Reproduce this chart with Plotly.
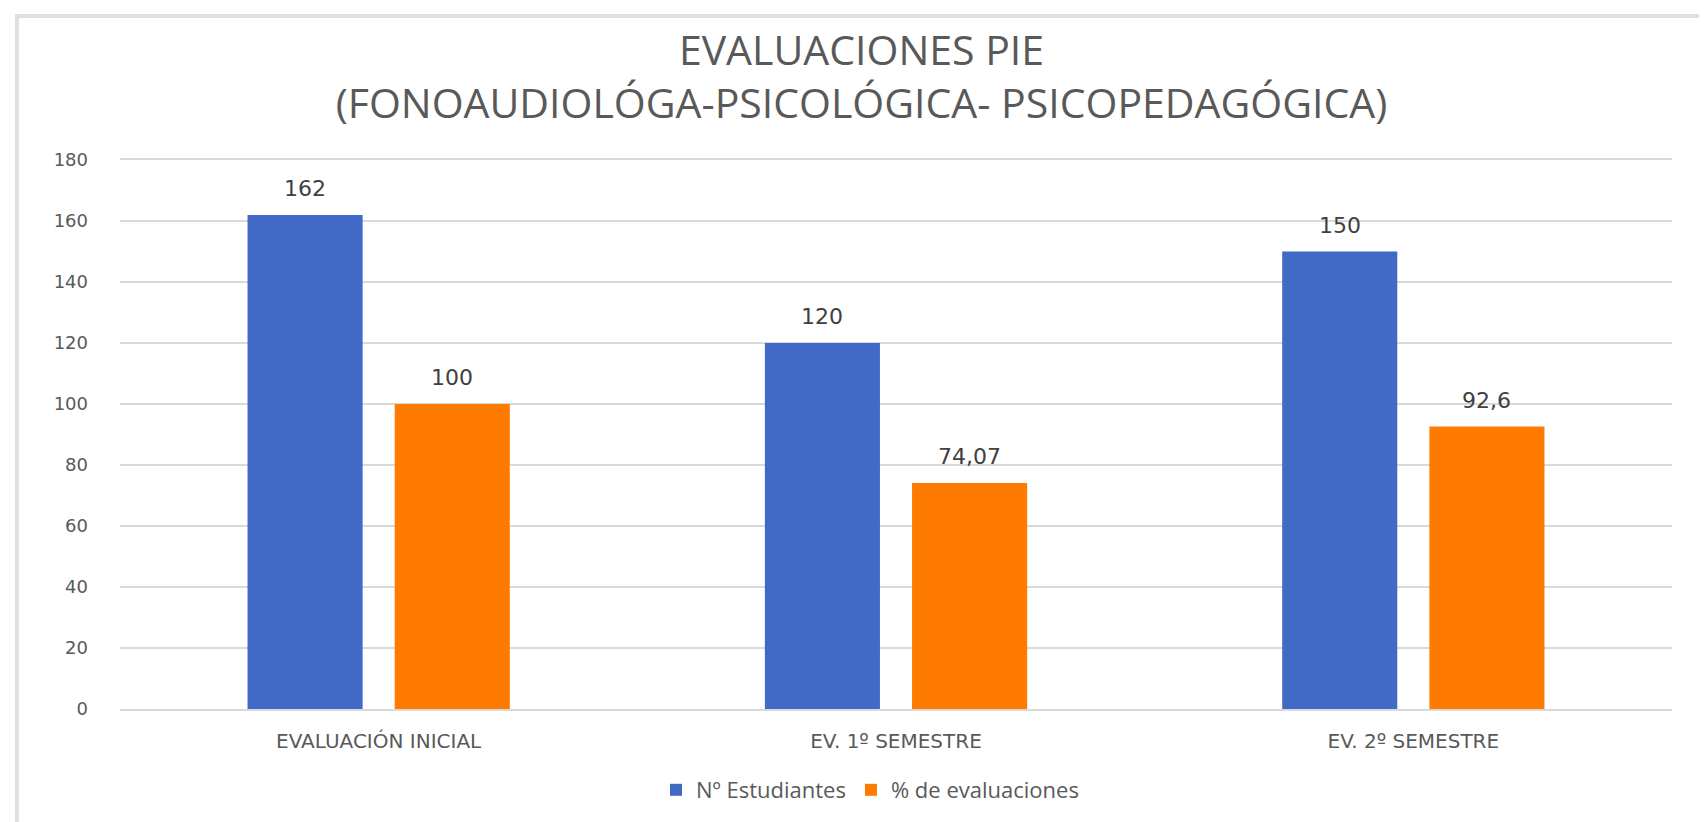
import plotly.graph_objects as go

categories = ["EVALUACIÓN INICIAL", "EV. 1º SEMESTRE", "EV. 2º SEMESTRE"]
estudiantes = [162, 120, 150]
porcentaje = [100, 74.07, 92.6]
series_names = ["Nº Estudiantes", "% de evaluaciones"]
y_ticks = [0, 20, 40, 60, 80, 100, 120, 140, 160, 180]

BLUE = "#4169C6"
ORANGE = "#FF7B00"
GRAY = "#595959"
LABEL = "#404040"

W, H = 1707, 822
L, R, T, B = 112, 43, 152, 121
PW = W - L - R
PH = H - T - B


def fmt(v):
    return f"{v:g}".replace(".", ",")


fig = go.Figure()
fig.add_trace(go.Bar(x=categories, y=estudiantes, name=series_names[0],
                     marker=dict(color=BLUE, line=dict(width=0))))
fig.add_trace(go.Bar(x=categories, y=porcentaje, name=series_names[1],
                     marker=dict(color=ORANGE, line=dict(width=0))))

slot_px = PW / len(categories) * (1 - 0.431) / 2
annotations = []
for vals, sign in ((estudiantes, -1), (porcentaje, 1)):
    for c, v in zip(categories, vals):
        annotations.append(dict(
            x=c, y=v, xref="x", yref="y", text=fmt(v), showarrow=False,
            xanchor="center", yanchor="bottom", xshift=sign * slot_px / 2, yshift=12,
            font=dict(family="DejaVu Sans", size=22, color=LABEL),
        ))

fig.update_layout(
    width=W, height=H,
    margin=dict(l=L, r=R, t=T, b=B),
    paper_bgcolor="white", plot_bgcolor="white",
    barmode="group", bargap=0.431, bargroupgap=0.218,
    title=dict(
        text="EVALUACIONES PIE<br>(FONOAUDIOLÓGA-PSICOLÓGICA- PSICOPEDAGÓGICA)",
        x=0.5, xanchor="center", y=1 - 57 / H, yanchor="middle", yref="container",
        font=dict(family="Open Sans", size=41, color=GRAY),
    ),
    xaxis=dict(
        showgrid=False, showline=True, mirror=True, linecolor="#D9D9D9", linewidth=2,
        ticks="", zeroline=False, ticklabelstandoff=13,
        tickfont=dict(family="DejaVu Sans", size=20, color=GRAY),
    ),
    yaxis=dict(
        range=[0, 180], tickvals=y_ticks, showgrid=True, gridcolor="#D9D9D9", gridwidth=2,
        zeroline=False, showline=False, ticks="", ticklabelstandoff=31,
        tickfont=dict(family="DejaVu Sans", size=18, color=GRAY),
    ),
    legend=dict(
        orientation="h", x=(862 - L) / PW, xanchor="center", y=(701 - 782) / PH, yanchor="middle",
        font=dict(family="Open Sans", size=22, color=GRAY), itemwidth=30,
        traceorder="normal",
    ),
    showlegend=True,
    annotations=annotations,
    shapes=[dict(
        type="rect", xref="paper", yref="paper",
        x0=(9 - L) / PW, x1=(1704 - L) / PW,
        y0=(701 - 840) / PH, y1=(701 - 8) / PH,
        line=dict(color="#E0E0E0", width=4), fillcolor="rgba(0,0,0,0)", layer="below",
    )],
)

fig.write_html("out.html")
